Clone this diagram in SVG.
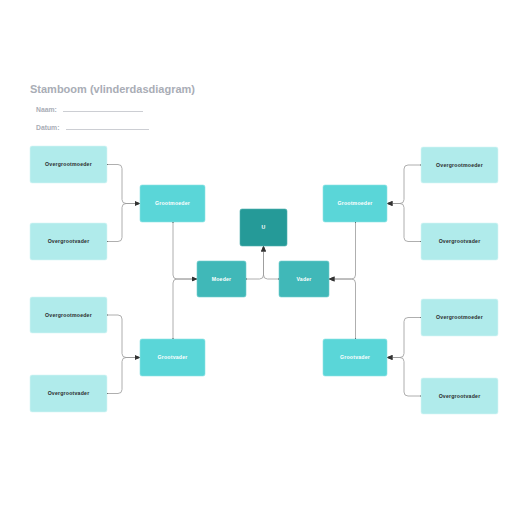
<svg xmlns="http://www.w3.org/2000/svg" width="516" height="516" viewBox="0 0 516 516">
<style>
.b1{fill:#b0ebeb;stroke:#d6f5f5;stroke-width:0.6}
.b2{fill:#5ad6d8;stroke:#8fe3e4;stroke-width:0.6}
.b3{fill:#40b8b8;stroke:#70cccc;stroke-width:0.6}
.b4{fill:#259a98;stroke:#4fb0ae;stroke-width:0.6}
.t1{font-family:"Liberation Sans",Arial,sans-serif;font-size:5.2px;font-weight:bold;fill:#2b2b2b;text-anchor:middle;letter-spacing:0.2px}
.t2{font-family:"Liberation Sans",Arial,sans-serif;font-size:5.2px;font-weight:bold;fill:#ffffff;text-anchor:middle;letter-spacing:0.2px}
.c{fill:none;stroke:#9a9a9a;stroke-width:0.8;marker-end:url(#a);marker-start:url(#d)}
.h{font-family:"Liberation Sans",Arial,sans-serif;font-weight:bold;fill:#a9adb6}
</style>
<defs>
<marker id="a" viewBox="0 0 6 6" refX="5.5" refY="3" markerWidth="6" markerHeight="6" markerUnits="userSpaceOnUse" orient="auto"><path d="M0,0.5 L6,3 L0,5.5 z" fill="#333"/></marker>
<marker id="d" viewBox="0 0 2 2" refX="1" refY="1" markerWidth="1.6" markerHeight="1.6" markerUnits="userSpaceOnUse"><circle cx="1" cy="1" r="1" fill="#222"/></marker>
</defs>
<text class="h" x="30" y="92.5" font-size="11">Stamboom (vlinderdasdiagram)</text>
<text class="h" x="36" y="111.5" font-size="6.8">Naam:</text>
<line x1="63" y1="111.5" x2="143" y2="111.5" stroke="#a9adb6" stroke-width="0.6"/>
<text class="h" x="36" y="129.5" font-size="6.8">Datum:</text>
<line x1="66" y1="129.5" x2="149" y2="129.5" stroke="#a9adb6" stroke-width="0.6"/>
<g id="connectors">
<path class="c" d="M107,164.5 H118 Q122,164.5 122,168.5 V199.5 Q122,203.5 126,203.5 H140"/>
<path class="c" d="M107,241.5 H118 Q122,241.5 122,237.5 V207.5 Q122,203.5 126,203.5 H140"/>
<path class="c" d="M107,315 H118 Q122,315 122,319 V353.5 Q122,357.5 126,357.5 H140"/>
<path class="c" d="M107,393.5 H118 Q122,393.5 122,389.5 V361.5 Q122,357.5 126,357.5 H140"/>
<path class="c" d="M421,165 H408 Q404,165 404,169 V199.5 Q404,203.5 400,203.5 H387"/>
<path class="c" d="M421,241.5 H408 Q404,241.5 404,237.5 V207.5 Q404,203.5 400,203.5 H387"/>
<path class="c" d="M421,317.5 H408 Q404,317.5 404,321.5 V353.5 Q404,357.5 400,357.5 H387"/>
<path class="c" d="M421,396 H408 Q404,396 404,392 V361.5 Q404,357.5 400,357.5 H387"/>
<path class="c" d="M173,222 V275 Q173,279 177,279 H197"/>
<path class="c" d="M173,339 V283 Q173,279 177,279 H197"/>
<path class="c" d="M355.5,222 V275 Q355.5,279 351.5,279 H329"/>
<path class="c" d="M355.5,339 V283 Q355.5,279 351.5,279 H329"/>
<path class="c" d="M246,279 H259.5 Q263.5,279 263.5,275 V246"/>
<path class="c" d="M279,279 H267.5 Q263.5,279 263.5,275 V246"/>
</g>
<g id="ogm1"><rect class="b1" x="30" y="146" width="77" height="37" rx="2"/><text class="t1" x="68.5" y="166.3">Overgrootmoeder</text></g>
<g id="ogv1"><rect class="b1" x="30" y="223" width="77" height="37" rx="2"/><text class="t1" x="68.5" y="243.3">Overgrootvader</text></g>
<g id="ogm2"><rect class="b1" x="30" y="297" width="77" height="36" rx="2"/><text class="t1" x="68.5" y="316.8">Overgrootmoeder</text></g>
<g id="ogv2"><rect class="b1" x="30" y="375" width="77" height="37" rx="2"/><text class="t1" x="68.5" y="395.3">Overgrootvader</text></g>
<g id="ogm3"><rect class="b1" x="421" y="147" width="77" height="36" rx="2"/><text class="t1" x="459.5" y="166.8">Overgrootmoeder</text></g>
<g id="ogv3"><rect class="b1" x="421" y="223" width="77" height="37" rx="2"/><text class="t1" x="459.5" y="243.3">Overgrootvader</text></g>
<g id="ogm4"><rect class="b1" x="421" y="299" width="77" height="37" rx="2"/><text class="t1" x="459.5" y="319.3">Overgrootmoeder</text></g>
<g id="ogv4"><rect class="b1" x="421" y="378" width="77" height="36" rx="2"/><text class="t1" x="459.5" y="397.8">Overgrootvader</text></g>
<g id="gm1"><rect class="b2" x="140" y="185" width="65" height="37" rx="2"/><text class="t2" x="172.5" y="205.3">Grootmoeder</text></g>
<g id="gv1"><rect class="b2" x="140" y="339" width="65" height="37" rx="2"/><text class="t2" x="172.5" y="359.3">Grootvader</text></g>
<g id="gm2"><rect class="b2" x="323" y="185" width="64" height="37" rx="2"/><text class="t2" x="355" y="205.3">Grootmoeder</text></g>
<g id="gv2"><rect class="b2" x="323" y="339" width="64" height="37" rx="2"/><text class="t2" x="355" y="359.3">Grootvader</text></g>
<g id="moeder"><rect class="b3" x="197" y="261" width="49" height="36" rx="2"/><text class="t2" x="221.5" y="280.8">Moeder</text></g>
<g id="vader"><rect class="b3" x="279" y="261" width="50" height="36" rx="2"/><text class="t2" x="304" y="280.8">Vader</text></g>
<g id="u"><rect class="b4" x="240" y="209" width="47" height="37" rx="2"/><text class="t2" x="263.5" y="229.3">U</text></g>
</svg>
